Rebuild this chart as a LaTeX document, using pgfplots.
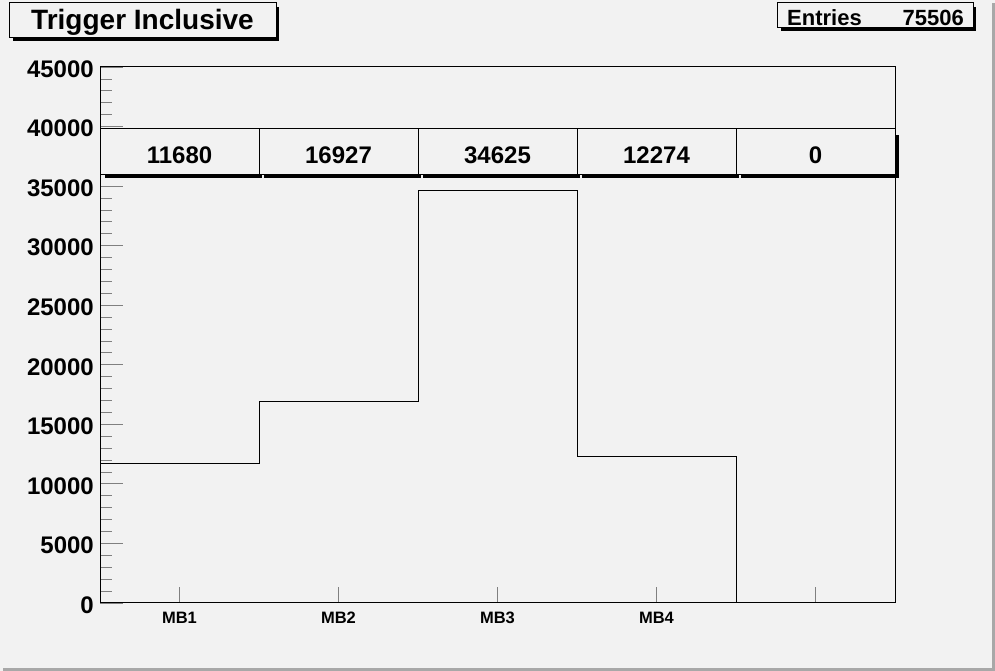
\documentclass[border=0pt]{standalone}
\usepackage{fontspec}
\setmainfont{Liberation Sans}
\usepackage{pgfplots}
\pgfplotsset{compat=1.18}
\definecolor{bg}{HTML}{F2F2F2}
\definecolor{edge}{HTML}{A8A8A8}
\pgfplotstableread[row sep=\\]{
x y lab\\
0.5 37570 11680\\
1.5 37570 16927\\
2.5 37570 34625\\
3.5 37570 12274\\
4.5 37570 0\\
}\cells
\begin{document}
\begin{tikzpicture}
\useasboundingbox (0pt,0pt) rectangle (995pt,671pt);
\fill[bg] (0pt,0pt) rectangle (995pt,671pt);
\fill[edge] (3pt,0pt) rectangle (995pt,3pt);
\fill[edge] (992pt,0pt) rectangle (995pt,668pt);
% title box
\fill[black] (13pt,630pt) rectangle (279pt,633pt);
\fill[black] (276pt,630pt) rectangle (279pt,664pt);
\filldraw[fill=bg, draw=black, line width=1pt] (9pt,633pt) rectangle (276pt,668pt);
\node[anchor=base, inner sep=0pt, font=\fontsize{28}{28}\selectfont\bfseries] at (142.5pt,641pt) {Trigger Inclusive};
% entries box
\fill[black] (781pt,640pt) rectangle (976pt,643pt);
\fill[black] (973pt,640pt) rectangle (976pt,664pt);
\filldraw[fill=bg, draw=black, line width=1pt] (777pt,643pt) rectangle (973pt,668pt);
\node[anchor=base west, inner sep=0pt, font=\fontsize{22}{22}\selectfont\bfseries] at (787pt,645pt) {Entries};
\node[anchor=base east, inner sep=0pt, font=\fontsize{22}{22}\selectfont\bfseries] at (964pt,645pt) {75506};
\begin{axis}[
  at={(100pt,68pt)}, anchor=south west,
  scale only axis, width=795pt, height=536pt,
  xmin=0, xmax=5, ymin=0, ymax=45000,
  clip=false,
  axis line style={line width=1pt},
  tick align=inside,
  xtick pos=bottom, ytick pos=left,
  major tick length=23pt, minor tick length=12pt,
  xtick style={/pgfplots/major tick length=16pt, line width=0.8pt},
  ytick style={line width=0.8pt},
  ytick={0,5000,...,45000}, minor y tick num=4,
  xtick={0.5,1.5,2.5,3.5,4.5},
  xticklabels={MB1,MB2,MB3,MB4,{}},
  scaled y ticks=false,
  /pgf/number format/assume math mode=true,
  /pgf/number format/1000 sep={},
  yticklabel style={font=\fontsize{24}{24}\selectfont\bfseries, inner sep=0pt, xshift=-6pt, yshift=-2pt},
  xticklabel style={font=\fontsize{16.5}{16.5}\selectfont\bfseries, inner sep=0pt, yshift=-9pt},
]
\addplot[const plot, black, line width=0.8pt] coordinates {(0,11680)(1,16927)(2,34625)(3,12274)(4,0)};
% cell shadows
\fill[black] ([shift={(5pt,-3.5pt)}]axis cs:0,35933) rectangle ([shift={(3pt,0pt)}]axis cs:1,35933);
\fill[black] ([shift={(5pt,-3.5pt)}]axis cs:1,35933) rectangle ([shift={(3pt,0pt)}]axis cs:2,35933);
\fill[black] ([shift={(5pt,-3.5pt)}]axis cs:2,35933) rectangle ([shift={(3pt,0pt)}]axis cs:3,35933);
\fill[black] ([shift={(5pt,-3.5pt)}]axis cs:3,35933) rectangle ([shift={(3pt,0pt)}]axis cs:4,35933);
\fill[black] ([shift={(5pt,-3.5pt)}]axis cs:4,35933) rectangle ([shift={(3pt,0pt)}]axis cs:5,35933);
\fill[black] ([shift={(0pt,-3.5pt)}]axis cs:5,35933) rectangle ([shift={(3.5pt,-6pt)}]axis cs:5,39795);
% cells
\filldraw[fill=bg, draw=black, line width=1pt] (axis cs:0,35933) rectangle (axis cs:1,39795);
\filldraw[fill=bg, draw=black, line width=1pt] (axis cs:1,35933) rectangle (axis cs:2,39795);
\filldraw[fill=bg, draw=black, line width=1pt] (axis cs:2,35933) rectangle (axis cs:3,39795);
\filldraw[fill=bg, draw=black, line width=1pt] (axis cs:3,35933) rectangle (axis cs:4,39795);
\filldraw[fill=bg, draw=black, line width=1pt] (axis cs:4,35933) rectangle (axis cs:5,39795);
\addplot[draw=none, nodes near coords, point meta=explicit symbolic,
  nodes near coords align=center,
  every node near coord/.append style={font=\fontsize{24}{24}\selectfont\bfseries, inner sep=0pt, anchor=center}]
  table[meta=lab] {\cells};
\end{axis}
\end{tikzpicture}
\end{document}
